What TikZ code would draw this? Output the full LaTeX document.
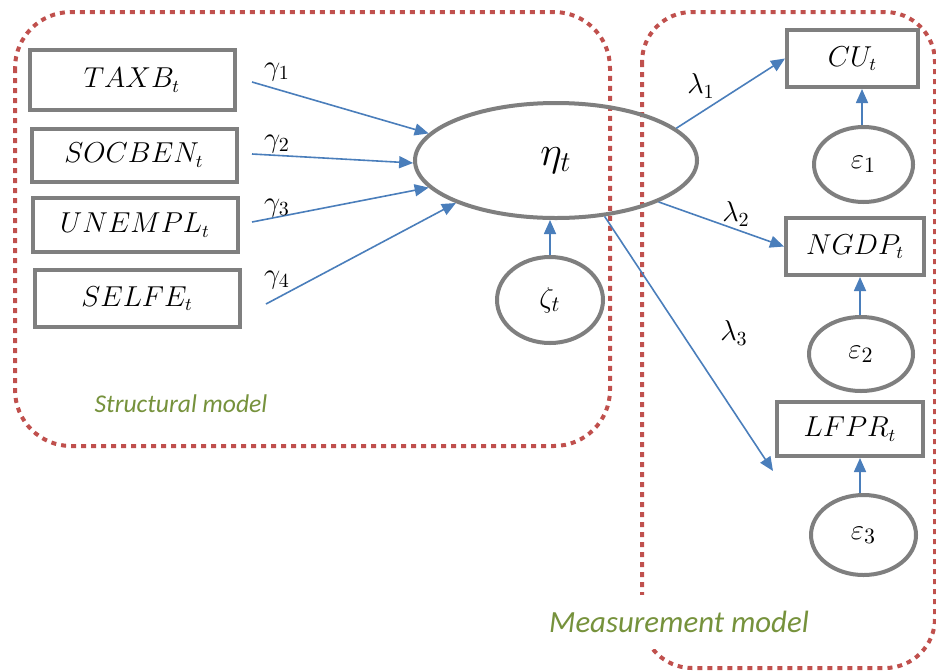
\documentclass[tikz,border=0pt]{standalone}
\usepackage{fontspec}
\newfontfamily\calib{Carlito}
\usetikzlibrary{shapes.geometric,arrows.meta}
\definecolor{frame}{RGB}{192,80,77}
\definecolor{boxgray}{RGB}{127,127,127}
\definecolor{arrblue}{RGB}{74,126,187}
\definecolor{olive}{RGB}{118,146,60}
\begin{document}
\begin{tikzpicture}[x=0.5pt,y=-0.5pt,
  frameline/.style={draw=frame,line width=2pt,dash pattern=on 2.5pt off 2.5pt},
  obsbox/.style={draw=boxgray,line width=2pt,rectangle,inner sep=0pt,font=\fontsize{13.5}{16}\selectfont},
  latent/.style={draw=boxgray,line width=2pt,ellipse,inner sep=0pt,font=\fontsize{15}{17}\selectfont},
  conn/.style={draw=arrblue,line width=0.8pt,-{Triangle[length=7pt,width=6pt]}},
  coef/.style={inner sep=0pt,font=\fontsize{14}{16}\selectfont},
  caption/.style={text=olive,font=\calib\itshape}
]
\useasboundingbox (0,0) rectangle (936,670);
\fill[white] (0,0) rectangle (936,670);
% frames
\draw[frameline,rounded corners=28pt] (15,12) rectangle (610,446);
\draw[frameline,rounded corners=25pt] (642,12) rectangle (935,668);
% observed exogenous
\node[obsbox,minimum width=102.5pt,minimum height=30pt] (taxb) at (132,80) {$TAXB_t$};
\node[obsbox,minimum width=102.5pt,minimum height=26.5pt] (socben) at (134,155) {$SOCBEN_t$};
\node[obsbox,minimum width=102.5pt,minimum height=27pt] (unempl) at (135,225) {$UNEMPL_t$};
\node[obsbox,minimum width=102.5pt,minimum height=28.5pt] (selfe) at (137,298.5) {$SELFE_t$};
% latent
\node[latent,minimum width=141pt,minimum height=57.5pt,font=\fontsize{22}{24}\selectfont] (eta) at (556,160.5) {$\eta_t$};
\node[latent,minimum width=53pt,minimum height=43pt] (zeta) at (550,300) {$\zeta_t$};
% indicators
\node[obsbox,minimum width=65.5pt,minimum height=28.5pt] (cu) at (852.5,58.5) {$CU_t$};
\node[obsbox,minimum width=69pt,minimum height=28.5pt] (ngdp) at (855,246.5) {$NGDP_t$};
\node[obsbox,minimum width=73pt,minimum height=27pt] (lfpr) at (850,429) {$LFPR_t$};
\node[latent,minimum width=49.5pt,minimum height=37.5pt] (e1) at (863.5,164.5) {$\varepsilon_1$};
\node[latent,minimum width=52pt,minimum height=37pt] (e2) at (861,354) {$\varepsilon_2$};
\node[latent,minimum width=52.5pt,minimum height=40pt] (e3) at (863.5,535) {$\varepsilon_3$};
% free ends
\coordinate (g1s) at (252,82);
\coordinate (g2s) at (252,154);
\coordinate (g3s) at (252,222);
\coordinate (g4s) at (266,304);
\coordinate (l3e) at (773,471);
% structural arrows
\draw[conn] (g1s) -- (eta.168);
\draw[conn] (g2s) -- (eta.181);
\draw[conn] (g3s) -- (eta.192.5);
\draw[conn] (g4s) -- (eta.203);
\draw[conn] (zeta.north) -- (zeta.north |- eta.south);
% measurement arrows
\draw[conn] (eta.15.5) -- (cu.west);
\draw[conn] (eta.338) -- (ngdp.west);
\draw[conn] (eta.311) -- (l3e);
\draw[conn] (e1.north -| 862,0) -- (862,0 |- cu.south);
\draw[conn] (e2.north -| 860,0) -- (860,0 |- ngdp.south);
\draw[conn] (e3.north -| 860,0) -- (860,0 |- lfpr.south);
% coefficient labels
\node[coef] (gam1) at (277,72) {$\gamma_1$};
\node[coef] (gam2) at (277,144) {$\gamma_2$};
\node[coef] (gam3) at (277,208) {$\gamma_3$};
\node[coef] (gam4) at (277,280) {$\gamma_4$};
\node[coef] (lam1) at (701,86) {$\lambda_1$};
\node[coef] (lam2) at (736,214) {$\lambda_2$};
\node[coef] (lam3) at (734,333) {$\lambda_3$};
% captions
\node[caption,font=\calib\itshape\fontsize{12.8}{15}\selectfont] (smod) at (181,404) {Structural model};
\node[caption,font=\calib\itshape\fontsize{15.4}{18}\selectfont,fill=white,inner xsep=2pt,inner ysep=8pt] (mmod) at (679,622) {Measurement model};
\end{tikzpicture}
\end{document}
